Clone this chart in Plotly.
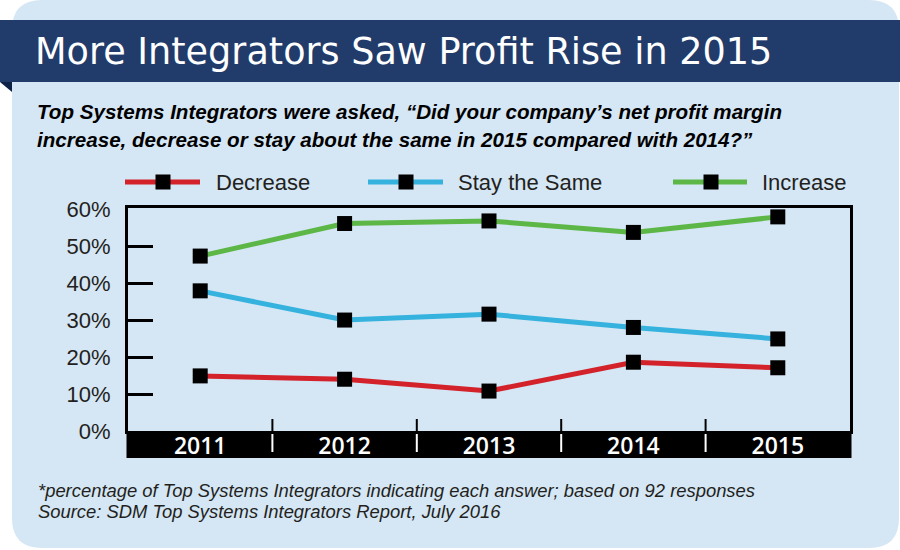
import plotly.graph_objects as go

# ---------------- data ----------------
years = [2011, 2012, 2013, 2014, 2015]
decrease = [14.9, 14.0, 10.8, 18.6, 17.1]
stay_same = [37.9, 30.0, 31.6, 28.0, 24.9]
increase = [47.3, 56.1, 56.8, 53.7, 57.9]
series_names = ["Decrease", "Stay the Same", "Increase"]
series_colors = ["#d3222a", "#35b2dd", "#5cb746"]
y_ticks = [0, 10, 20, 30, 40, 50, 60]

title_text = "More Integrators Saw Profit Rise in 2015"
subtitle_lines = [
    "Top Systems Integrators were asked, \u201cDid your company\u2019s net profit margin",
    "increase, decrease or stay about the same in 2015 compared with 2014?\u201d",
]
footnote_lines = [
    "*percentage of Top Systems Integrators indicating each answer; based on 92 responses",
    "Source: SDM Top Systems Integrators Report, July 2016",
]

# ---------------- layout geometry (pixels) ----------------
W, H = 900, 550
PL, PR, PT, PB = 128, 850, 208, 431


def px(x):
    return (x - PL) / (PR - PL)


def py(y):
    return (PB - y) / (PB - PT)


CARD = "#d5e6f4"
NAVY = "#213b6b"

fig = go.Figure()
for name, vals, col in zip(series_names, [decrease, stay_same, increase], series_colors):
    fig.add_trace(go.Scatter(
        x=years, y=vals, name=name, mode="lines+markers",
        line=dict(color=col, width=5),
        marker=dict(symbol="square", size=15, color="black", line=dict(width=0)),
        showlegend=False, cliponaxis=False,
    ))

shapes = []


def rounded_rect(x0, y0, x1, y1, r):
    pts = (
        f"M {px(x0 + r)},{py(y0)} L {px(x1 - r)},{py(y0)} "
        f"Q {px(x1)},{py(y0)} {px(x1)},{py(y0 + r)} "
        f"L {px(x1)},{py(y1 - r)} Q {px(x1)},{py(y1)} {px(x1 - r)},{py(y1)} "
        f"L {px(x0 + r)},{py(y1)} Q {px(x0)},{py(y1)} {px(x0)},{py(y1 - r)} "
        f"L {px(x0)},{py(y0 + r)} Q {px(x0)},{py(y0)} {px(x0 + r)},{py(y0)} Z"
    )
    return pts


# card background
shapes.append(dict(type="path", xref="paper", yref="paper", layer="below",
                   path=rounded_rect(12, 0, 899, 548, 30),
                   fillcolor=CARD, line=dict(width=0)))
# title band
shapes.append(dict(type="rect", xref="paper", yref="paper", layer="below",
                   x0=px(0), x1=px(900), y0=py(82), y1=py(20),
                   fillcolor=NAVY, line=dict(width=0)))
# fold triangle
shapes.append(dict(type="path", xref="paper", yref="paper", layer="below",
                   path=f"M {px(0)},{py(82)} L {px(12)},{py(82)} L {px(12)},{py(92)} Z",
                   fillcolor="#0e2247", line=dict(width=0)))
# black x-axis band
shapes.append(dict(type="rect", xref="paper", yref="paper", layer="below",
                   x0=px(PL - 1.5), x1=px(PR + 1.5), y0=py(458), y1=py(PB),
                   fillcolor="black", line=dict(width=0)))
# separators between years
mids = [(a + b) / 2 for a, b in zip(years[:-1], years[1:])]
for m in mids:
    shapes.append(dict(type="line", xref="x", yref="paper", layer="above",
                       x0=m, x1=m, y0=py(PB), y1=py(419),
                       line=dict(color="black", width=2)))
    shapes.append(dict(type="line", xref="x", yref="paper", layer="above",
                       x0=m, x1=m, y0=py(452), y1=py(434),
                       line=dict(color="white", width=2)))

annotations = []
# legend (manual)
leg_lines = [(125, 200, 163, 216), (368, 443, 406, 458), (673, 747, 711, 762)]
LY = 182
for (x0, x1, xm, xt), name, col in zip(leg_lines, series_names, series_colors):
    shapes.append(dict(type="line", xref="paper", yref="paper", layer="below",
                       x0=px(x0), x1=px(x1), y0=py(LY), y1=py(LY),
                       line=dict(color=col, width=5)))
    shapes.append(dict(type="rect", xref="paper", yref="paper", layer="below",
                       x0=px(xm - 7.5), x1=px(xm + 7.5), y0=py(LY + 7.5), y1=py(LY - 7.5),
                       fillcolor="black", line=dict(width=0)))
    annotations.append(dict(xref="paper", yref="paper", x=px(xt - 2), y=py(LY),
                            xanchor="left", yanchor="middle", showarrow=False,
                            text=name, font=dict(family="Liberation Sans", size=22, color="#231f20")))

# title
annotations.append(dict(xref="paper", yref="paper", x=px(33), y=py(51),
                        xanchor="left", yanchor="middle", showarrow=False,
                        text=title_text,
                        font=dict(family="DejaVu Sans", size=36.6, color="white")))
# subtitle
for i, line in enumerate(subtitle_lines):
    annotations.append(dict(xref="paper", yref="paper", x=px(35), y=py(111 + 28 * i),
                            xanchor="left", yanchor="middle", showarrow=False,
                            text=f"<b><i>{line}</i></b>",
                            font=dict(family="Liberation Sans", size=20.6, color="black")))
# footnotes
for i, line in enumerate(footnote_lines):
    annotations.append(dict(xref="paper", yref="paper", x=px(36), y=py(490 + 21 * i),
                            xanchor="left", yanchor="middle", showarrow=False,
                            text=f"<i>{line}</i>",
                            font=dict(family="Liberation Sans", size=18.4, color="#231f20")))

fig.update_layout(
    width=W, height=H,
    margin=dict(l=PL, r=W - PR, t=PT, b=H - PB, pad=0),
    paper_bgcolor="white", plot_bgcolor="white",
    shapes=shapes, annotations=annotations,
    showlegend=False,
    xaxis=dict(range=[years[0] - 0.5, years[-1] + 0.5], tickvals=years,
               ticktext=[str(y) for y in years], showgrid=False, zeroline=False,
               showline=True, linecolor="black", linewidth=3, mirror=True,
               ticks="", tickfont=dict(family="Open Sans", size=23, color="white", weight=600),
               ticklabelstandoff=-8, fixedrange=True),
    yaxis=dict(range=[0, 60.3], tickvals=y_ticks, ticktext=[f"{v}%" for v in y_ticks],
               showgrid=False, zeroline=False, showline=True, linecolor="black",
               linewidth=3, mirror=True, ticks="",
               minor=dict(tickvals=y_ticks[1:-1], ticks="inside", ticklen=25,
                          tickwidth=2.5, tickcolor="black"),
               tickfont=dict(family="Liberation Sans", size=22, color="#231f20"),
               ticklabelstandoff=10, fixedrange=True),
)

fig.write_html("out.html", config={"displayModeBar": False})
